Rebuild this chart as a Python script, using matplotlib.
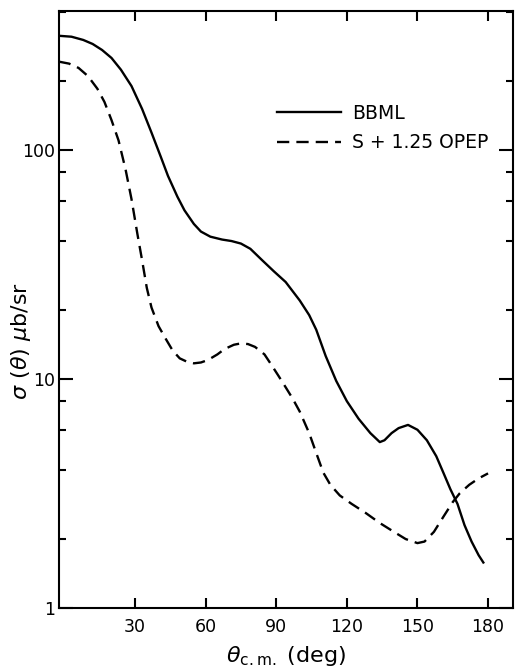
import numpy as np
import matplotlib
matplotlib.use("Agg")
from matplotlib import pyplot as plt
from matplotlib.ticker import FixedLocator, NullFormatter, FixedFormatter

plt.rcParams['font.family'] = ['DejaVu Sans']

# BBML (solid) - angle in degrees, cross section in microbarn/sr
bbml_angle = [-2.5, 3, 8, 12, 16, 20, 24, 28.5, 33, 37, 41, 44, 48, 51, 55, 58, 62, 67,
              71, 75, 79, 84, 89, 94, 100, 104, 107, 111, 115.5, 120, 125, 130, 134, 136,
              139, 142, 146, 150, 154, 158, 161, 164, 167, 170, 173, 176, 178]
bbml_sigma = [315, 312, 302, 290, 273, 252, 224, 190, 151, 119, 93, 77, 62.5, 54.5, 47.5, 44,
              41.8, 40.6, 40, 39, 37, 33, 29.5, 26.5, 22, 19, 16.4, 12.6, 9.8, 8, 6.7, 5.8,
              5.3, 5.4, 5.8, 6.1, 6.3, 6.0, 5.4, 4.6, 3.9, 3.3, 2.85, 2.3, 1.95, 1.7, 1.58]

# S + 1.25 OPEP (dashed)
opep_angle = [-2.5, 2, 6, 10, 14, 17, 20, 23, 26, 28.5, 31, 33, 35, 37, 40, 43, 46, 49, 52,
              55, 58, 61, 65, 68, 72, 75, 78, 81, 85, 88, 91, 94, 97, 100, 104, 107, 110,
              113, 117, 122, 128, 134, 140, 145, 150, 153, 157, 161, 165, 168, 172, 176, 180]
opep_sigma = [243, 238, 228, 210, 185, 162, 135, 110, 82, 61, 43, 33, 25, 20.5, 17, 15,
              13.3, 12.3, 11.9, 11.7, 11.8, 12.1, 12.8, 13.5, 14.1, 14.3, 14.2, 13.8, 12.8,
              11.5, 10.3, 9.2, 8.2, 7.2, 5.8, 4.75, 3.9, 3.45, 3.1, 2.85, 2.6, 2.35, 2.15,
              2.0, 1.92, 1.95, 2.15, 2.5, 2.9, 3.17, 3.45, 3.68, 3.87]

x_ticks = [30, 60, 90, 120, 150, 180]
y_major = [1, 10, 100]
y_major_labels = ['1', '10', '100']
y_minor = [2, 4, 6, 8, 20, 40, 60, 80, 200, 400]

fig = plt.figure(figsize=(5.18, 6.67), dpi=100)
ax = fig.add_axes([59 / 518, 1 - 608 / 667, (513 - 59) / 518, (608 - 11) / 667])

ax.plot(bbml_angle, bbml_sigma, color='black', lw=1.7, label='BBML')
ax.plot(opep_angle, opep_sigma, color='black', lw=1.7, dashes=(5.2, 3),
        label='S + 1.25 OPEP')

ax.set_yscale('log')
ax.set_xlim(-2.3, 190.6)
ax.set_ylim(1, 404)

ax.xaxis.set_major_locator(FixedLocator(x_ticks))
ax.yaxis.set_major_locator(FixedLocator(y_major))
ax.yaxis.set_major_formatter(FixedFormatter(y_major_labels))
ax.yaxis.set_minor_locator(FixedLocator(y_minor))
ax.yaxis.set_minor_formatter(NullFormatter())

ax.tick_params(axis='both', which='both', direction='in', top=True, right=True,
               width=1.5, labelsize=12.5)
ax.tick_params(axis='x', which='major', length=7, pad=7)
ax.tick_params(axis='y', which='major', length=10, pad=3)
ax.tick_params(axis='y', which='minor', length=5)
for s in ax.spines.values():
    s.set_linewidth(1.5)

ax.set_xlabel(r'$\theta_{\rm c.m.}$ (deg)', fontsize=16, labelpad=6)
fig.text(21 / 518, 1 - 341 / 667, r'$\sigma\ (\theta)\ \mu$b/sr', rotation=90,
         ha='center', va='center', fontsize=16)

ax.legend(loc='center left', bbox_to_anchor=(277 / 518, 1 - 128 / 667),
          bbox_transform=fig.transFigure, frameon=False, fontsize=13.5,
          handlelength=3.4, handletextpad=0.6, labelspacing=0.55,
          borderpad=0, borderaxespad=0)

fig.savefig('out.png', dpi=100)
